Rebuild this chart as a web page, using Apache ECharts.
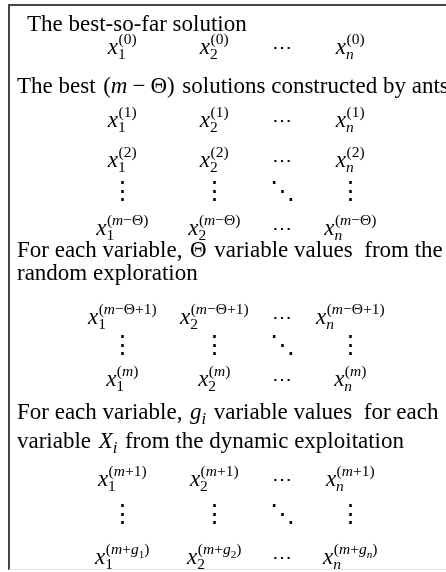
<!DOCTYPE html>
<html>
<head>
<meta charset="utf-8">
<script src="https://cdn.jsdelivr.net/npm/echarts@6/dist/echarts.min.js"></script>
<style>
  html, body { margin: 0; padding: 0; background: #fff; }
  #chart1 { width: 446px; height: 572px; }
</style>
</head>
<body>
<div id="chart1"></div>
<script>
// text content of the figure
var headings = [
    'The best-so-far solution',
    'The best $(m−Θ)$ solutions constructed by ants',
    'For each variable, $Θ$ variable values  from the',
    'random exploration',
    'For each variable, $g_i$ variable values  for each',
    'variable $X_i$ from the dynamic exploitation'
];
var colSubs = ['1', '2', 'n'];
var rowSups = ['(0)', '(1)', '(2)', '(m−Θ)', '(m−Θ+1)', '(m)', '(m+1)', '(m+g_#)'];
// order of lines: h = heading, r = matrix row, v = vertical dots
var sequence = ['h0', 'r0', 'h1', 'r1', 'r2', 'v', 'r3', 'h2', 'h3', 'r4', 'v', 'r5', 'h4', 'h5', 'r6', 'v', 'r7'];

// layout
var lineY = [32, 55, 94, 128, 168, 201, 236, 258, 281, 325, 355, 387, 420, 449, 487, 524, 565];
var headX = [27, 17, 17, 17, 17, 17];
var colX = [122, 214, 282, 350];
var FAM = '"Liberation Serif", "DejaVu Serif", serif';
var HEAD_SIZE = 23, X_SIZE = 23, SCRIPT_SIZE = 15.5;

var ctx = document.createElement('canvas').getContext('2d');
function fontOf(p) {
    return (p.italic ? 'italic ' : '') + p.size + 'px ' + FAM;
}
function width(p) {
    ctx.font = fontOf(p);
    return ctx.measureText(p.t).width;
}
function midOffset(p) {
    ctx.font = fontOf(p);
    var m = ctx.measureText('Hg');
    if (m.fontBoundingBoxAscent) return (m.fontBoundingBoxAscent - m.fontBoundingBoxDescent) / 2;
    return p.size * 0.3375;
}

// mini math: letters italic, _c subscript, spaced binary operators
function parseMath(s, size, spaced) {
    var out = [];
    for (var i = 0; i < s.length; i++) {
        var ch = s[i];
        if (ch === '_') {
            var c = s[++i];
            out.push({t: c, italic: /[a-zA-Z]/.test(c), size: size * 0.72, dy: size * 0.22});
        } else if (spaced && (ch === '+' || ch === '−')) {
            out.push({gap: size * 0.22});
            out.push({t: ch, size: size, dy: 0});
            out.push({gap: size * 0.22});
        } else {
            out.push({t: ch, italic: /[a-zA-Z]/.test(ch), size: size, dy: 0});
        }
    }
    return out;
}
function parseLine(str, size) {
    var parts = str.split('$'), out = [];
    parts.forEach(function (part, k) {
        if (!part) return;
        if (k % 2) {
            out.push({gap: size * 0.08});
            out = out.concat(parseMath(part, size, true));
            out.push({gap: size * 0.08});
        } else out.push({t: part, size: size, dy: 0});
    });
    return out;
}
function runWidth(pieces) {
    var w = 0;
    pieces.forEach(function (p) { w += p.gap ? p.gap : width(p); });
    return w;
}
function place(pieces, x, base, els) {
    pieces.forEach(function (p) {
        if (p.gap) { x += p.gap; return; }
        els.push({
            type: 'text', silent: true,
            x: x, y: base + p.dy - midOffset(p),
            style: {text: p.t, font: fontOf(p), fill: '#000', align: 'left', verticalAlign: 'middle'}
        });
        x += width(p);
    });
    return x;
}
function shift(pieces, dy) {
    return pieces.map(function (p) {
        var q = Object.assign({}, p);
        if (!q.gap) q.dy = (q.dy || 0) + dy;
        return q;
    });
}

var elements = [
    {type: 'line', silent: true, shape: {x1: 8, y1: 5, x2: 446, y2: 5}, style: {stroke: '#444', lineWidth: 2}},
    {type: 'line', silent: true, shape: {x1: 9, y1: 4, x2: 9, y2: 570}, style: {stroke: '#444', lineWidth: 2}},
    {type: 'line', silent: true, shape: {x1: 9, y1: 569.5, x2: 446, y2: 569.5}, style: {stroke: '#e4e4e4', lineWidth: 1}}
];

sequence.forEach(function (item, li) {
    var base = lineY[li];
    if (item[0] === 'h') {
        var h = +item.slice(1);
        place(parseLine(headings[h], HEAD_SIZE), headX[h], base, elements);
    } else if (item === 'v') {
        colX.forEach(function (cx, c) {
            var p = {t: c === 2 ? '⋱' : '⋮', size: X_SIZE * 1.1, dy: 0};
            place([p], cx - width(p) / 2, base, elements);
        });
    } else {
        var r = +item.slice(1);
        colX.forEach(function (cx, c) {
            if (c === 2) {
                var d = {t: '⋯', size: X_SIZE * 0.85, dy: 0};
                place([d], cx - width(d) / 2, base, elements);
                return;
            }
            var sub = colSubs[c > 2 ? 2 : c];
            var xp = {t: 'x', italic: true, size: X_SIZE, dy: 0};
            var sup = shift(parseMath(rowSups[r].replace('#', sub), SCRIPT_SIZE, false), -9.5);
            var sb = shift(parseMath(sub, SCRIPT_SIZE, false), 5);
            var xw = width(xp);
            var total = xw + Math.max(runWidth(sup), runWidth(sb));
            var x0 = cx - total / 2;
            place([xp], x0, base, elements);
            place(sup, x0 + xw + 0.5, base, elements);
            place(sb, x0 + xw, base, elements);
        });
    }
});

var myChart = echarts.init(document.getElementById('chart1'));
myChart.setOption({
    animation: false,
    graphic: {elements: elements}
});
</script>
</body>
</html>
